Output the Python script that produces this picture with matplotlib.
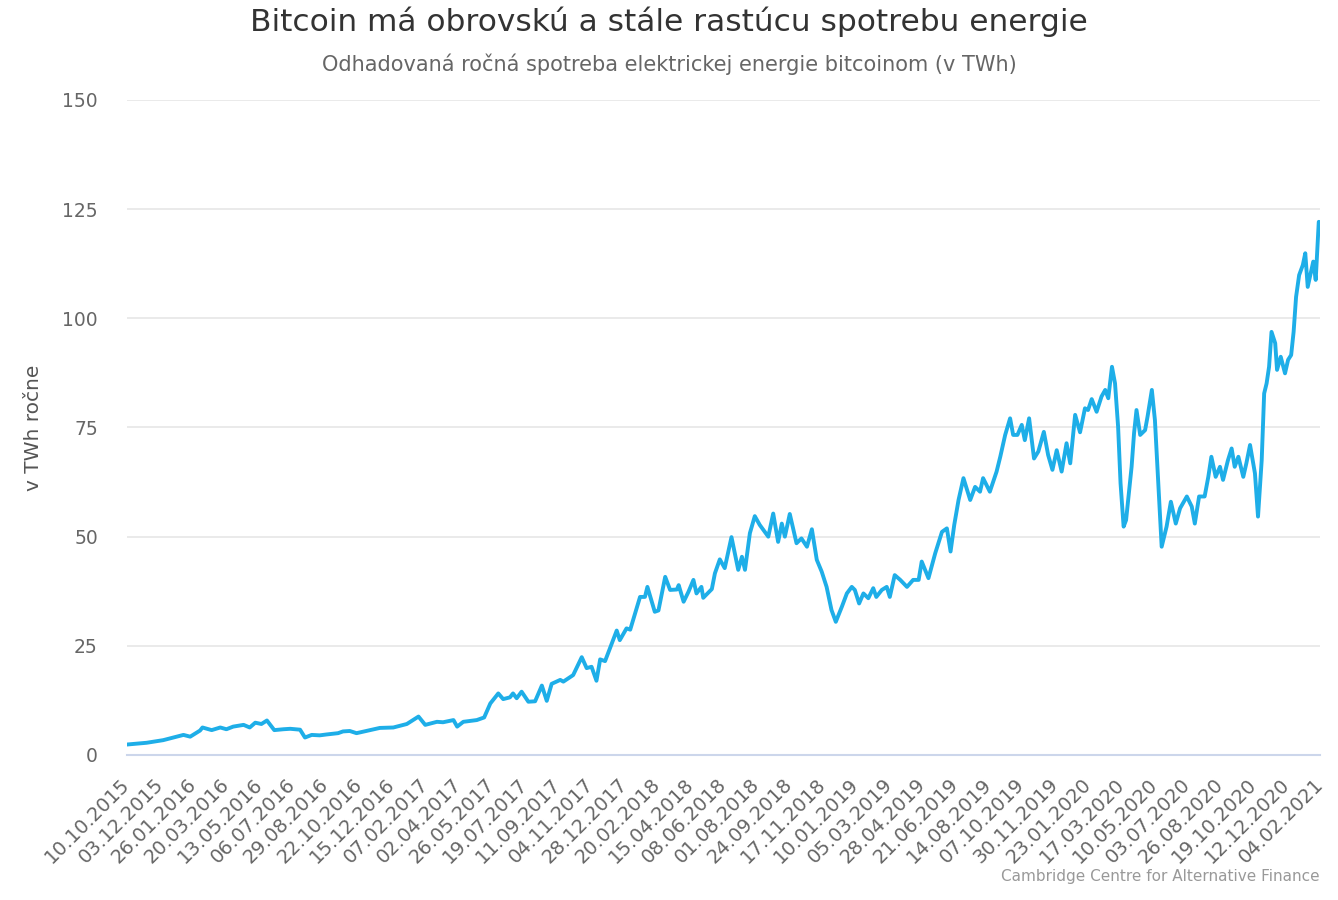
import numpy as np
import matplotlib
matplotlib.use('Agg')
import matplotlib.pyplot as plt
import matplotlib.dates as mdates

# days since 10.10.2015 and estimated annual consumption (TWh)
start = np.datetime64('2015-10-10')
days = [0, 32, 59, 70, 92, 103, 119, 123, 138, 152, 162, 173, 190, 200, 209, 219, 228,
        240, 255, 266, 282, 290, 301, 314, 325, 344, 352, 363, 374, 396, 412, 434, 456,
        475, 486, 505, 515, 532, 538, 548, 570, 582, 592, 605, 613, 624, 629, 635, 643,
        654, 665, 676, 684, 692, 706, 711, 727, 741, 749, 757, 765, 771, 779, 798, 803,
        814, 820, 836, 844, 848, 860, 866, 877, 885, 896, 899, 907, 915, 923, 928, 936,
        939, 953, 958, 966, 974, 985, 996, 1002, 1007, 1015, 1023, 1031, 1045, 1053,
        1061, 1067, 1072, 1080, 1091, 1099, 1108, 1116, 1124, 1132, 1140, 1148, 1155,
        1165, 1173, 1181, 1186, 1193, 1200, 1208, 1216, 1221, 1230, 1238, 1243, 1251,
        1260, 1271, 1281, 1290, 1295, 1306, 1317, 1328, 1336, 1342, 1348, 1355, 1363,
        1374, 1382, 1390, 1395, 1406, 1417, 1423, 1431, 1439, 1444, 1451, 1458, 1463,
        1470, 1478, 1485, 1494, 1501, 1508, 1515, 1523, 1531, 1537, 1545, 1553, 1561,
        1566, 1572, 1580, 1588, 1594, 1599, 1605, 1610, 1615, 1619, 1624, 1628, 1632,
        1637, 1641, 1645, 1651, 1659, 1663, 1670, 1675, 1681, 1686, 1694, 1701, 1709,
        1716, 1727, 1735, 1740, 1747, 1756, 1762, 1767, 1774, 1781, 1786, 1794, 1800,
        1805, 1811, 1819, 1824, 1830, 1838, 1843, 1849, 1853, 1857, 1861, 1865, 1871,
        1874, 1880, 1887, 1892, 1897, 1901, 1905, 1910, 1916, 1920, 1924, 1933, 1937,
        1942, 1944]
twh = [2.4, 2.8, 3.4, 3.8, 4.6, 4.2, 5.6, 6.3, 5.7, 6.3, 5.9, 6.5, 6.9, 6.3, 7.4, 7.1, 7.9,
       5.7, 5.9, 6.0, 5.8, 4.0, 4.6, 4.5, 4.7, 5.0, 5.4, 5.5, 5.0, 5.7, 6.2, 6.3, 7.1,
       8.8, 6.9, 7.6, 7.5, 8.0, 6.5, 7.6, 8.0, 8.6, 11.8, 14.1, 12.8, 13.2, 14.1, 13.0, 14.5,
       12.2, 12.3, 15.9, 12.4, 16.3, 17.2, 16.8, 18.3, 22.4, 19.9, 20.2, 17.0, 21.9, 21.5, 28.5, 26.3,
       29.0, 28.7, 36.2, 36.2, 38.5, 32.8, 33.1, 40.8, 37.8, 37.9, 38.9, 35.1, 37.4, 40.1, 37.0, 38.5,
       36.0, 38.0, 41.6, 44.8, 42.8, 49.9, 42.4, 45.4, 42.4, 50.8, 54.7, 52.7, 50.0, 55.3,
       48.8, 53.0, 50.0, 55.2, 48.5, 49.6, 47.7, 51.7, 44.7, 42.0, 38.5, 33.2, 30.5,
       34.0, 37.0, 38.5, 37.8, 34.7, 37.0, 35.9, 38.2, 36.2, 37.8, 38.5, 36.2, 41.2,
       40.1, 38.5, 40.1, 40.1, 44.3, 40.5, 46.2, 51.1, 51.9, 46.6, 52.7, 58.4, 63.4,
       58.4, 61.4, 60.3, 63.4, 60.3, 64.9, 68.3, 73.3, 77.1, 73.3, 73.3, 75.6, 72.1,
       77.1, 67.9, 69.5, 74.0, 68.7, 65.3, 69.8, 64.9, 71.4, 66.8, 77.9, 73.9, 79.4,
       79.0, 81.5, 78.6, 82.1, 83.6, 81.7, 88.9, 85.1, 75.2, 62.2, 52.3, 53.8, 59.2,
       66.0, 73.7, 79.0, 73.3, 74.4, 77.5, 83.6, 76.7, 60.7, 47.7, 52.3, 58.0, 53.0,
       56.5, 59.2, 56.9, 53.0, 59.2, 59.2, 63.7, 68.3, 63.7, 66.0, 63.0, 67.5, 70.2,
       66.0, 68.3, 63.7, 66.8, 71.0, 64.5, 54.6, 67.5, 82.8, 85.1, 88.9, 96.9, 94.3,
       88.2, 91.2, 87.4, 90.5, 91.6, 96.9, 104.9, 109.9, 112.2, 114.9, 107.2, 113.0, 108.8,
       122.1, 122.0]

y_ticks = [0, 25, 50, 75, 100, 125, 150]
tick_step = 54  # days between date labels

title = 'Bitcoin má obrovskú a stále rastúcu spotrebu energie'
subtitle = 'Odhadovaná ročná spotreba elektrickej energie bitcoinom (v TWh)'
ylabel = 'v TWh ročne'
credits = 'Cambridge Centre for Alternative Finance'

dates = start + np.array(days).astype('timedelta64[D]')
end = start + np.timedelta64(days[-1], 'D')

W, H = 1338, 900
fig = plt.figure(figsize=(W / 100, H / 100), dpi=100)
ax = fig.add_axes([127 / W, 1 - 755 / H, (1320 - 127) / W, (755 - 100) / H])

ax.plot(dates, twh, color='#1eaee8', lw=2.8, solid_joinstyle='round', solid_capstyle='round')

ax.set_ylim(0, 150)
ax.set_xlim(start, end)
ax.set_yticks(y_ticks)
ax.set_xticks(start + np.arange(0, days[-1] + 1, tick_step).astype('timedelta64[D]'))
ax.xaxis.set_major_formatter(mdates.DateFormatter('%d.%m.%Y'))

ax.grid(axis='y', color='#e6e6e6', lw=1.2)
ax.set_axisbelow(True)
for s in ['top', 'right', 'left']:
    ax.spines[s].set_visible(False)
ax.spines['bottom'].set_color('#ccd6eb')
ax.spines['bottom'].set_linewidth(1.5)

ax.tick_params(axis='both', length=0)
ax.tick_params(axis='y', labelsize=13.5, labelcolor='#666666', pad=21)
ax.tick_params(axis='x', labelsize=14, labelcolor='#666666', pad=19)
for lab in ax.get_xticklabels():
    lab.set_rotation(45)
    lab.set_ha('right')
    lab.set_va('center')
    lab.set_rotation_mode('anchor')

ax.set_ylabel(ylabel, fontsize=14.5, color='#555555', labelpad=14)

fig.text(0.5, 1 - 22 / H, title, ha='center', va='center', fontsize=22.5, color='#333333')
fig.text(0.5, 1 - 64 / H, subtitle, ha='center', va='center', fontsize=15, color='#666666')
fig.text(1320 / W, 1 - 876 / H, credits, ha='right', va='center', fontsize=11, color='#999999')

fig.savefig('out.png', dpi=100)
